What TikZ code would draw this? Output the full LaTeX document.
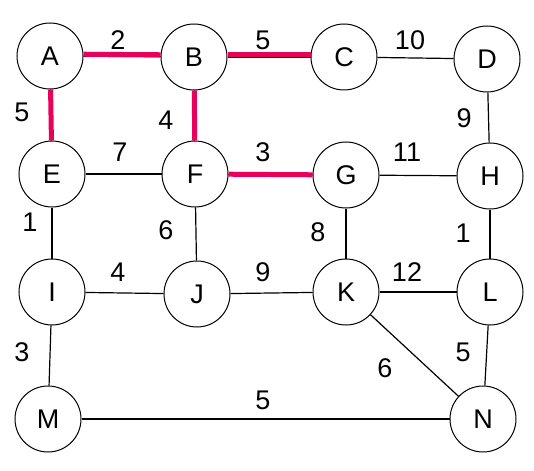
\documentclass[tikz,border=0pt]{standalone}
\usepackage{fontspec}
\setmainfont{Liberation Sans}
\usepackage{tikz}
\usetikzlibrary{positioning}
\definecolor{hlpink}{RGB}{232,0,90}

\begin{document}
\begin{tikzpicture}[x=0.5pt,y=-0.5pt,
  vertex/.style={draw,circle,line width=0.5pt,minimum size=33pt,inner sep=0pt,font=\fontsize{13.5}{15}\selectfont},
  edge/.style={draw,line width=0.6pt},
  hl/.style={draw,line width=2.5pt,hlpink},
  wt/.style={font=\fontsize{13.5}{15}\selectfont,inner sep=1pt}
]
\useasboundingbox (0,0) rectangle (534,470);
\node[vertex] (A) at (50,56) {A};
\node[vertex] (B) at (194,57) {B};
\node[vertex] (C) at (344,57) {C};
\node[vertex] (D) at (487,59) {D};
\node[vertex] (E) at (52,174) {E};
\node[vertex] (F) at (195,174) {F};
\node[vertex] (G) at (346,175) {G};
\node[vertex] (H) at (490,176) {H};
\node[vertex] (I) at (52,292) {I};
\node[vertex] (J) at (197,294) {J};
\node[vertex] (K) at (346,292) {K};
\node[vertex] (L) at (490,292) {L};
\node[vertex] (M) at (48,419) {M};
\node[vertex] (N) at (483,419) {N};
\draw[edge] (A) -- (B);
\draw[edge] (B) -- (C);
\draw[edge] (C) -- (D);
\draw[edge] (A) -- (E);
\draw[edge] (B) -- (F);
\draw[edge] (D) -- (H);
\draw[edge] (E) -- (F);
\draw[edge] (F) -- (G);
\draw[edge] (G) -- (H);
\draw[edge] (E) -- (I);
\draw[edge] (F) -- (J);
\draw[edge] (G) -- (K);
\draw[edge] (H) -- (L);
\draw[edge] (I) -- (J);
\draw[edge] (J) -- (K);
\draw[edge] (K) -- (L);
\draw[edge] (I) -- (M);
\draw[edge] (K) -- (N);
\draw[edge] (L) -- (N);
\draw[edge] (M) -- (N);
% shortest path tree
\draw[hl,transform canvas={yshift=1pt}] (A) -- (B);
\draw[hl,transform canvas={yshift=1pt}] (B) -- (C);
\draw[hl] (A) -- (E);
\draw[hl] (B) -- (F);
\draw[hl] (F) -- (G);
% weights
\node[wt] (wAB) at (118,40) {2};
\node[wt] (wBC) at (263,40) {5};
\node[wt] (wCD) at (410,40) {10};
\node[wt] (wAE) at (22,112) {5};
\node[wt] (wBF) at (166,120) {4};
\node[wt] (wDH) at (464,118) {9};
\node[wt] (wEF) at (120,152) {7};
\node[wt] (wFG) at (263,152) {3};
\node[wt] (wGH) at (407,152) {11};
\node[wt] (wEI) at (30,222) {1};
\node[wt] (wFJ) at (166,230) {6};
\node[wt] (wGK) at (318,232) {8};
\node[wt] (wHL) at (463,233) {1};
\node[wt] (wIJ) at (118,272) {4};
\node[wt] (wJK) at (263,272) {9};
\node[wt] (wKL) at (407,272) {12};
\node[wt] (wIM) at (22,352) {3};
\node[wt] (wKN) at (385,368) {6};
\node[wt] (wLN) at (463,352) {5};
\node[wt] (wMN) at (263,400) {5};
\end{tikzpicture}
\end{document}
